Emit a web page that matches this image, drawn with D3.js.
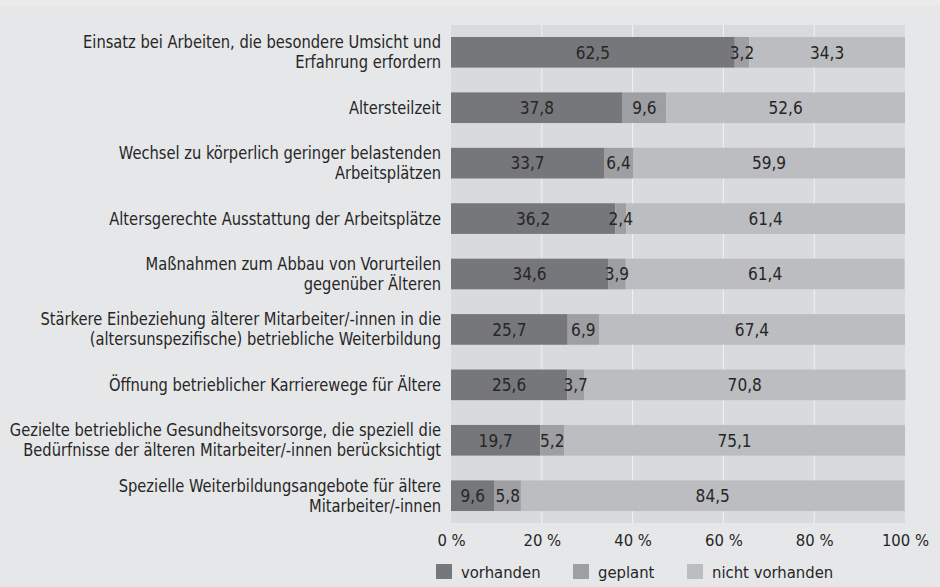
<!DOCTYPE html>
<html>
<head>
<meta charset="utf-8">
<script src="https://cdn.jsdelivr.net/npm/d3@7"></script>
<style>
  html, body { margin: 0; padding: 0; background: #e6e7e9; }
  svg { display: block; }
  text { font-family: "DejaVu Sans Condensed", "Liberation Sans Narrow", "Liberation Sans", sans-serif; fill: #262626; }
</style>
</head>
<body>
<svg id="chart" width="940" height="587"></svg>
<script>
const categories = [
  ["Einsatz bei Arbeiten, die besondere Umsicht und", "Erfahrung erfordern"],
  ["Altersteilzeit"],
  ["Wechsel zu körperlich geringer belastenden", "Arbeitsplätzen"],
  ["Altersgerechte Ausstattung der Arbeitsplätze"],
  ["Maßnahmen zum Abbau von Vorurteilen", "gegenüber Älteren"],
  ["Stärkere Einbeziehung älterer Mitarbeiter/-innen in die", "(altersunspezifische) betriebliche Weiterbildung"],
  ["Öffnung betrieblicher Karrierewege für Ältere"],
  ["Gezielte betriebliche Gesundheitsvorsorge, die speziell die", "Bedürfnisse der älteren Mitarbeiter/-innen berücksichtigt"],
  ["Spezielle Weiterbildungsangebote für ältere", "Mitarbeiter/-innen"]
];
const vorhanden      = [62.5, 37.8, 33.7, 36.2, 34.6, 25.7, 25.6, 19.7, 9.6];
const geplant        = [3.2, 9.6, 6.4, 2.4, 3.9, 6.9, 3.7, 5.2, 5.8];
const nichtVorhanden = [34.3, 52.6, 59.9, 61.4, 61.4, 67.4, 70.8, 75.1, 84.5];
const seriesNames = ["vorhanden", "geplant", "nicht vorhanden"];
const tickValues = [0, 20, 40, 60, 80, 100];
const tickLabels = ["0 %", "20 %", "40 %", "60 %", "80 %", "100 %"];

const colors = ["#76777a", "#9e9fa2", "#bcbdc0"];
const svg = d3.select("#chart");
const sx = (ax, s) => `translate(${ax},0) scale(${s},1) translate(${-ax},0)`;

// top light strip
svg.append("rect").attr("x", 0).attr("y", 0).attr("width", 940).attr("height", 6).attr("fill", "#ebebec");

const pL = 451, pR = 905, pT = 25, pB = 523;
const x = d3.scaleLinear().domain([0, 100]).range([pL, pR]);
const y = d3.scaleBand().domain(d3.range(categories.length)).range([pT, pB])
  .paddingInner(0.447).paddingOuter(0.216);

svg.append("rect").attr("x", pL).attr("y", pT).attr("width", pR - pL).attr("height", pB - pT)
  .attr("fill", "#d9dadc");

svg.append("g").selectAll("line").data([20, 40, 60, 80]).join("line")
  .attr("x1", d => x(d)).attr("x2", d => x(d)).attr("y1", pT).attr("y2", pB)
  .attr("stroke", "#f2f2f3").attr("stroke-width", 1);

const rows = categories.map((c, i) => ({ i, vals: [vorhanden[i], geplant[i], nichtVorhanden[i]] }));
const stackData = rows.map(r => {
  let acc = 0;
  return r.vals.map((v, k) => { const s = { i: r.i, k, v, x0: acc, x1: acc + v }; acc += v; return s; });
}).flat();

svg.append("g").selectAll("rect").data(stackData).join("rect")
  .attr("x", d => x(d.x0)).attr("width", d => x(d.x1) - x(d.x0))
  .attr("y", d => y(d.i)).attr("height", y.bandwidth())
  .attr("fill", d => colors[d.k]);

svg.append("g").selectAll("text").data(stackData).join("text")
  .attr("x", d => x((d.x0 + d.x1) / 2)).attr("y", d => y(d.i) + y.bandwidth() / 2)
  .attr("dy", "0.35em").attr("text-anchor", "middle").attr("font-size", 18)
  .attr("transform", d => sx(x((d.x0 + d.x1) / 2), 0.95))
  .text(d => d.v.toFixed(1).replace(".", ","));

// category labels
const lab = svg.append("g").attr("transform", sx(441, 0.96));
categories.forEach((lines, i) => {
  const cy = y(i) + y.bandwidth() / 2;
  const lh = 20;
  const t = lab.append("text").attr("text-anchor", "end").attr("font-size", 17);
  lines.forEach((ln, j) => {
    t.append("tspan").attr("x", 441)
      .attr("y", cy + (j - (lines.length - 1) / 2) * lh)
      .attr("dy", "0.35em").text(ln);
  });
});

// x axis labels
const axis = d3.axisBottom(x).tickValues(tickValues).tickSize(0).tickPadding(0)
  .tickFormat((d, i) => tickLabels[i]);
const ag = svg.append("g").attr("transform", `translate(0, ${pB + 11})`).call(axis);
ag.select(".domain").remove();
ag.selectAll("text").attr("font-size", 16.5).attr("fill", "#262626")
  .style("font-family", '"DejaVu Sans Condensed", "Liberation Sans Narrow", sans-serif');

// legend
const legX = [436, 573, 687];
const lg = svg.append("g");
seriesNames.forEach((n, k) => {
  lg.append("rect").attr("x", legX[k]).attr("y", 564).attr("width", 16).attr("height", 15).attr("fill", colors[k]);
  lg.append("text").attr("x", legX[k] + 25).attr("y", 572).attr("dy", "0.35em").attr("font-size", 16.5).text(n);
});
</script>
</body>
</html>
